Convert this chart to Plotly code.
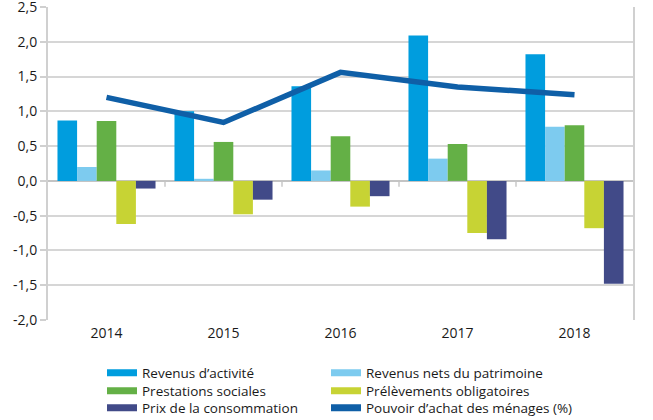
import plotly.graph_objects as go

years = ["2014", "2015", "2016", "2017", "2018"]
revenus_activite = [0.87, 1.00, 1.36, 2.09, 1.82]
revenus_patrimoine = [0.20, 0.03, 0.15, 0.32, 0.78]
prestations_sociales = [0.86, 0.56, 0.64, 0.53, 0.80]
prelevements = [-0.62, -0.48, -0.37, -0.75, -0.68]
prix_conso = [-0.11, -0.27, -0.22, -0.84, -1.48]
pouvoir_achat = [1.20, 0.84, 1.56, 1.35, 1.24]

ytick_vals = [-2.0, -1.5, -1.0, -0.5, 0.0, 0.5, 1.0, 1.5, 2.0, 2.5]
ytick_text = ["-2,0", "-1,5", "-1,0", "-0,5", "0,0", "0,5", "1,0", "1,5", "2,0", "2,5"]

names = ["Revenus d’activité", "Revenus nets du patrimoine", "Prestations sociales",
         "Prélèvements obligatoires", "Prix de la consommation",
         "Pouvoir d’achat des ménages (%)"]
colors = ["#009dde", "#7dcbef", "#64b046", "#c7d334", "#414a88", "#0f5fa7"]
series = [revenus_activite, revenus_patrimoine, prestations_sociales, prelevements, prix_conso]

FONT = "Open Sans"
fig = go.Figure()

for name, col, vals in zip(names[:5], colors[:5], series):
    fig.add_trace(go.Bar(x=years, y=vals, name=name, marker=dict(color=col, line=dict(width=0)),
                         showlegend=False))

fig.add_trace(go.Scatter(x=years, y=pouvoir_achat, mode="lines", name=names[5],
                         line=dict(color=colors[5], width=5.5), showlegend=False))

# legend entries: 3 rows x 2 columns, one legend per entry
row_y = [373, 391, 408]   # row centers in pixels
col_x = [102, 326]        # column left edges in pixels
legend_layouts = {}
for i in range(6):
    key = "legend" if i == 0 else f"legend{i + 1}"
    r, c = divmod(i, 2)
    fig.add_trace(go.Scatter(x=[None], y=[None], mode="lines", name=names[i],
                             line=dict(color=colors[i], width=7),
                             legend=key, showlegend=True, hoverinfo="skip"))
    legend_layouts[key] = dict(x=col_x[c] / 653, y=1 - row_y[r] / 420,
                               xref="container", yref="container",
                               xanchor="left", yanchor="middle", orientation="v",
                               bgcolor="rgba(0,0,0,0)",
                               font=dict(family=FONT, size=13.5, color="#1a1a1a"),
                               itemwidth=30)

# small tick marks on the zero line between categories
shapes = []
for i in range(len(years) - 1):
    shapes.append(dict(type="line", xref="x", yref="y", x0=i + 0.5, x1=i + 0.5,
                       y0=0, y1=-0.085, line=dict(color="#c8c8c8", width=1.5), layer="below"))

fig.update_layout(
    width=653, height=420,
    margin=dict(l=48, r=20, t=7, b=100, autoexpand=False),
    paper_bgcolor="white", plot_bgcolor="white",
    barmode="group", bargap=0.162, bargroupgap=0,
    font=dict(family=FONT, size=14, color="#1a1a1a"),
    shapes=shapes,
    xaxis=dict(type="category", showgrid=False, showline=False, ticks="",
               tickfont=dict(size=14, color="#1a1a1a"), ticklabelstandoff=3),
    yaxis=dict(range=[-2.0, 2.5], tickvals=ytick_vals, ticktext=ytick_text,
               showgrid=True, gridcolor="#d6d6d6", gridwidth=1.5,
               zeroline=True, zerolinecolor="#c4c4c4", zerolinewidth=1.5,
               showline=True, linecolor="#d0d0d0", linewidth=2, mirror=True,
               ticks="outside", ticklen=6, tickcolor="#d0d0d0", tickwidth=1.5,
               ticklabeloverflow="allow",
               tickfont=dict(size=14, color="#1a1a1a")),
    **legend_layouts,
)

fig.write_html("out.html", config={"displayModeBar": False},
               post_script="document.body.style.margin='0';document.body.style.padding='0';")
